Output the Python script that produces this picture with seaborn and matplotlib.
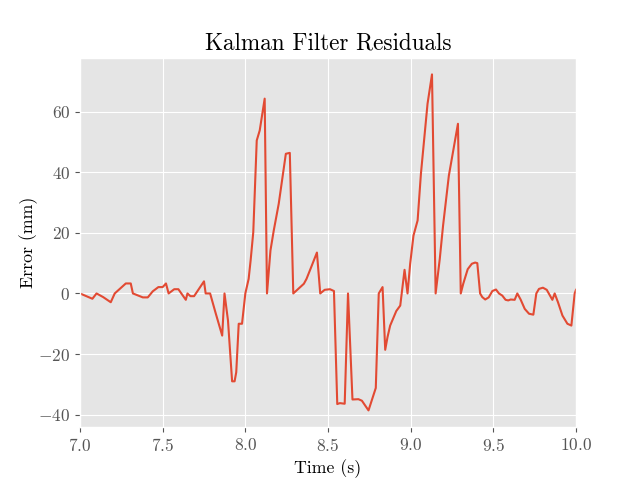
import matplotlib
matplotlib.use("Agg")
import matplotlib.pyplot as plt
import seaborn as sns
import pandas as pd

time_s = [7.0, 7.075, 7.1, 7.14, 7.186, 7.21, 7.277, 7.307, 7.32, 7.38, 7.41, 7.44,
          7.474, 7.5, 7.52, 7.536, 7.57, 7.595, 7.64, 7.65, 7.668, 7.69, 7.75, 7.76,
          7.787, 7.82, 7.86, 7.874, 7.895, 7.92, 7.935, 7.945, 7.96, 7.98, 8.0, 8.02,
          8.032, 8.048, 8.069, 8.087, 8.117, 8.131, 8.152, 8.172, 8.202, 8.245, 8.269,
          8.29, 8.354, 8.37, 8.397, 8.433, 8.453, 8.48, 8.512, 8.536, 8.556, 8.572,
          8.601, 8.621, 8.648, 8.684, 8.705, 8.745, 8.789, 8.807, 8.83, 8.846, 8.86,
          8.876, 8.913, 8.937, 8.963, 8.981, 8.997, 9.017, 9.042, 9.062, 9.102, 9.129,
          9.151, 9.176, 9.196, 9.231, 9.286, 9.303, 9.318, 9.345, 9.37, 9.39, 9.403,
          9.42, 9.433, 9.451, 9.472, 9.494, 9.516, 9.534, 9.554, 9.574, 9.59, 9.605,
          9.629, 9.645, 9.665, 9.69, 9.716, 9.742, 9.76, 9.776, 9.8, 9.823, 9.857,
          9.871, 9.891, 9.918, 9.948, 9.972, 9.992, 10.0]
error_mm = [0, -1.75, 0, -1.2, -2.9, 0, 3.3, 3.3, 0, -1.3, -1.3, 0.7,
            2.1, 2.1, 3.3, 0, 1.4, 1.4, -2.1, 0, -0.9, -0.9, 4.0, 0,
            0, -6.4, -13.9, 0, -8.9, -29, -29, -26, -10, -10, 0, 4.8,
            10.9, 20.2, 50.5, 53.8, 64.3, 0, 14.2, 20.8, 29.6, 46.1, 46.4,
            0, 3.2, 4.8, 8.5, 13.5, 0, 1.2, 1.4, 0.8, -36.5, -36.2,
            -36.4, 0, -35, -34.9, -35.4, -38.6, -31.2, 0, 2.1, -18.6, -14.4,
            -10.6, -5.8, -4, 7.8, 0, 9.8, 19.1, 24.1, 39.5, 62.6, 72.3,
            0, 11.4, 22.4, 38.9, 56, 0, 3.2, 8, 9.8, 10.2, 10,
            0, -1.2, -2, -1.3, 0.8, 1.3, 0, -0.7, -2.1, -2.3, -2,
            -2.1, 0, -2, -5.1, -6.7, -7, 0, 1.5, 1.9, 1.2, -2.1,
            0, -2.9, -7.3, -10, -10.6, 0, 1.2]

plt.style.use("ggplot")
plt.rcParams.update({
    "font.family": "serif",
    "font.serif": ["cmr10"],
    "mathtext.fontset": "cm",
    "axes.formatter.use_mathtext": True,
    "font.size": 12,
})

df = pd.DataFrame({"t": time_s, "e": error_mm})
fig, ax = plt.subplots(figsize=(6.4, 4.8), dpi=100)
sns.lineplot(data=df, x="t", y="e", ax=ax, color="#E24A33", linewidth=1.5,
             estimator=None, sort=False)
ax.set_xlim(7.0, 10.0)
ax.set_title("Kalman Filter Residuals", fontsize=16.7, color="black")
ax.set_xlabel("Time (s)", fontsize=12.8, color="black")
ax.set_ylabel("Error (mm)", fontsize=12.8, color="black", labelpad=0)
ax.tick_params(labelsize=12.5, colors="#555555")
fig.savefig("out.png", dpi=100)
